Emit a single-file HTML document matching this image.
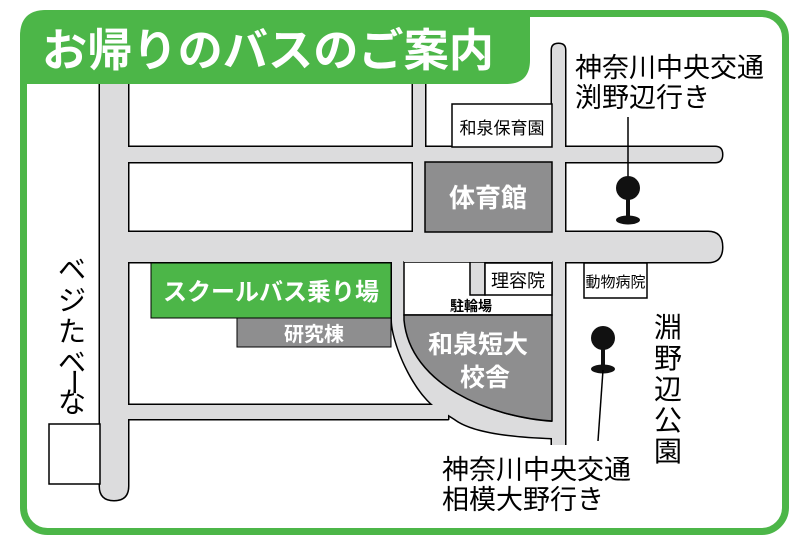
<!DOCTYPE html>
<html><head><meta charset="utf-8"><style>
html,body{margin:0;padding:0;background:#fff;}
svg{display:block;}
text{font-family:"Liberation Sans","Noto Sans CJK JP",sans-serif;}
</style></head><body>
<svg width="800" height="550" viewBox="0 0 800 550" xmlns="http://www.w3.org/2000/svg">
<rect x="0" y="0" width="800" height="550" fill="#fff"/>
<!-- frame -->
<rect x="23.5" y="13.5" width="762" height="518" rx="24" fill="#fff" stroke="#4cb648" stroke-width="7"/>

<!-- roads: black outline pass -->
<g fill="#000" stroke="#000" stroke-width="3" stroke-linejoin="round">
<path d="M100,80 L128,80 L128,486 Q128,500 114,500 Q100,500 100,486 Z"/>
<path d="M100,147 L715,147 Q722,147 722,154.5 Q722,162 715,162 L100,162 Z"/>
<path d="M100,232 L708,232 Q722,232 722,247 Q722,262 708,262 L100,262 Z"/>
<rect x="413" y="80" width="12" height="154"/>
<path d="M552,50 Q552,44 558.5,44 Q565,44 565,50 L565,445 L552,445 Z"/>
<rect x="128" y="405" width="320" height="14"/>
<path d="M392,262 L404,262 L404,320 C410,385 490,418 552,422 L552,438 C500,436 470,430 455,419 L433,405 C410,385 392,340 392,320 Z"/>
</g>
<g fill="#dcdcdd">
<path d="M100,80 L128,80 L128,486 Q128,500 114,500 Q100,500 100,486 Z"/>
<path d="M100,147 L715,147 Q722,147 722,154.5 Q722,162 715,162 L100,162 Z"/>
<path d="M100,232 L708,232 Q722,232 722,247 Q722,262 708,262 L100,262 Z"/>
<rect x="413" y="80" width="12" height="154"/>
<path d="M552,50 Q552,44 558.5,44 Q565,44 565,50 L565,447 L552,447 Z"/>
<rect x="128" y="405" width="320" height="14"/>
<path d="M392,262 L404,262 L404,320 C410,385 490,418 552,422 L552,438 C500,436 470,430 455,419 L433,405 C410,385 392,340 392,320 Z"/>
</g>
<rect x="550" y="445" width="17" height="4" fill="#fff"/>

<!-- title -->
<path d="M20,36 Q20,10 46,10 L530,10 L530,60 Q530,84 506,84 L20,84 Z" fill="#4cb648"/>
<text x="42" y="66" font-size="45" font-weight="bold" fill="#fff" textLength="452" lengthAdjust="spacingAndGlyphs">お帰りのバスのご案内</text>

<!-- campus -->
<rect x="404" y="262" width="148" height="53" fill="#fff" stroke="#000" stroke-width="1.5"/>
<rect x="470" y="262" width="15" height="33" fill="#dcdcdd" stroke="#000" stroke-width="1.5"/>
<rect x="404" y="260" width="148" height="2" fill="#dcdcdd"/>
<rect x="485" y="263" width="67" height="32" fill="#fff" stroke="#000" stroke-width="1.5"/>
<text x="518" y="287" font-size="18" text-anchor="middle">理容院</text>
<text x="471" y="311" font-size="14" font-weight="bold" text-anchor="middle">駐輪場</text>
<path d="M404,315 L552,315 L552,421 C490,417 410,385 404,320 Z" fill="#8e8e8f" stroke="#000" stroke-width="1.5"/>
<text x="478" y="353" font-size="25" font-weight="bold" fill="#fff" text-anchor="middle">和泉短大</text>
<text x="485" y="386" font-size="25" font-weight="bold" fill="#fff" text-anchor="middle">校舎</text>

<!-- other buildings -->
<rect x="452" y="104" width="100" height="43" fill="#fff" stroke="#000" stroke-width="1.5"/>
<text x="502" y="134" font-size="17" text-anchor="middle">和泉保育園</text>
<rect x="425" y="162" width="127" height="70" fill="#8e8e8f" stroke="#000" stroke-width="1.5"/>
<text x="488" y="207" font-size="26" font-weight="bold" fill="#fff" text-anchor="middle">体育館</text>
<rect x="151" y="263" width="240" height="55" fill="#4cb648" stroke="#000" stroke-width="1"/>
<text x="271" y="300" font-size="24" font-weight="bold" fill="#fff" text-anchor="middle">スクールバス乗り場</text>
<rect x="237" y="318" width="154" height="29" fill="#8e8e8f" stroke="#000" stroke-width="1"/>
<text x="314" y="341" font-size="20" font-weight="bold" fill="#fff" text-anchor="middle">研究棟</text>
<rect x="584" y="263" width="63" height="35" fill="#fff" stroke="#000" stroke-width="1.5"/>
<text x="615.5" y="287" font-size="15" text-anchor="middle">動物病院</text>
<rect x="49" y="424" width="51" height="60" fill="#fff" stroke="#000" stroke-width="1.5"/>

<!-- vertical text left -->
<g font-size="28" text-anchor="middle">
<text x="72" y="279">ベ</text>
<text x="72" y="310">ジ</text>
<text x="72" y="341">た</text>
<text x="72" y="372">ベ</text>
<text x="72" y="390" transform="rotate(90 72 382)">ー</text>
<text x="72" y="412">な</text>
</g>
<g font-size="28" text-anchor="middle">
<text x="668" y="337">淵</text>
<text x="668" y="368">野</text>
<text x="668" y="399">辺</text>
<text x="668" y="430">公</text>
<text x="668" y="461">園</text>
</g>

<!-- bus stops -->
<line x1="628" y1="117" x2="628" y2="180" stroke="#000" stroke-width="1.5"/>
<circle cx="628" cy="188" r="12" fill="#111"/>
<rect x="626" y="195" width="4" height="24" fill="#111"/>
<ellipse cx="628" cy="220" rx="12" ry="4.5" fill="#111"/>
<circle cx="603" cy="338" r="12" fill="#111"/>
<rect x="601" y="345" width="4" height="24" fill="#111"/>
<ellipse cx="603" cy="369" rx="12" ry="4.5" fill="#111"/>
<line x1="603" y1="370" x2="598" y2="441" stroke="#000" stroke-width="1.5"/>

<g font-size="27">
<text x="575" y="77">神奈川中央交通</text>
<text x="575" y="107">渕野辺行き</text>
<text x="442" y="479">神奈川中央交通</text>
<text x="442" y="509">相模大野行き</text>
</g>
</svg>
</body></html>
